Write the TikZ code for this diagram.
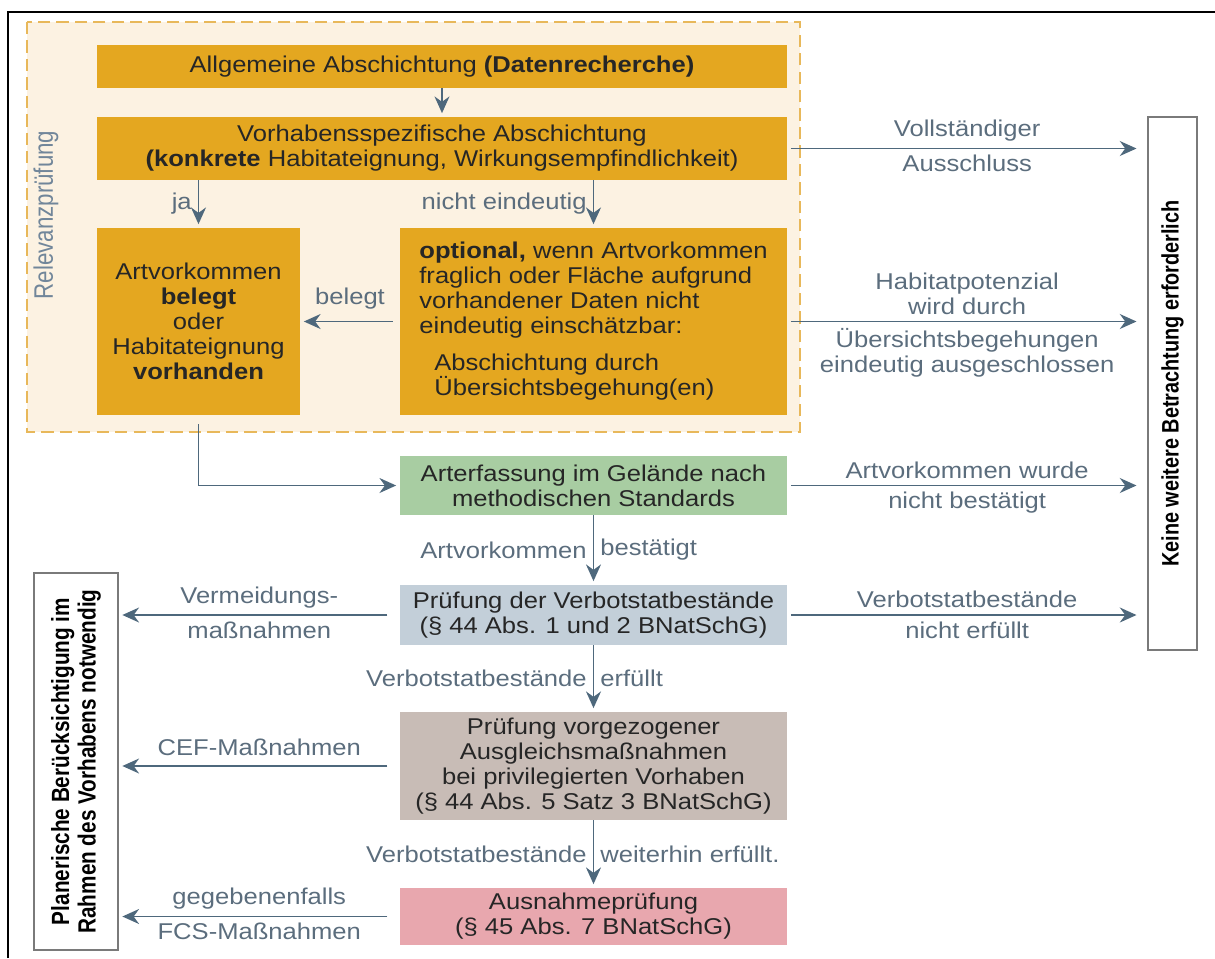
\documentclass[tikz,border=0pt]{standalone}
\usepackage{fontspec}
\setmainfont{Liberation Sans}[FakeStretch=1.12]
\newfontfamily\rotfont{Liberation Sans}
\usepackage{tikz}
\usetikzlibrary{arrows.meta,positioning}
\definecolor{rp-orange}{HTML}{E4A720}
\definecolor{rp-cream}{HTML}{FCF2E2}
\definecolor{rp-dash}{HTML}{E8B85A}
\definecolor{rp-green}{HTML}{A8CDA2}
\definecolor{rp-blue}{HTML}{C3CFD9}
\definecolor{rp-brown}{HTML}{C8BCB6}
\definecolor{rp-pink}{HTML}{E8A7AE}
\definecolor{rp-arrow}{HTML}{4E687C}
\definecolor{rp-label}{HTML}{5B6D7D}
\definecolor{rp-rel}{HTML}{71869A}
\definecolor{rp-text}{HTML}{262626}
\definecolor{rp-frame}{HTML}{7A7A7A}
\begin{document}
\begin{tikzpicture}[x=0.02cm, y=-0.02cm,
    box/.style={rectangle, inner sep=2pt, align=center, text=rp-text, font=\fontsize{13}{14.2}\selectfont},
    obox/.style={box, fill=rp-orange},
    lab/.style={text=rp-label, align=center, font=\fontsize{13}{14.2}\selectfont},
    arr/.style={-{Stealth[length=9.5pt,width=8.5pt]}, draw=rp-arrow, line width=1.1pt, shorten >=2pt},
    sidebox/.style={draw=rp-frame, line width=0.8pt, rotate=90, yscale=1.2, align=center, text=black}]
    \useasboundingbox (0,0) rectangle (1215,958);
    \draw[line width=1.2pt] (8,958) -- (8,12) -- (1215,12);

    % Relevanzpruefung
    \draw[rp-dash, fill=rp-cream, line width=0.8pt, dash pattern=on 7pt off 3.5pt] (27,22) rectangle (800,432);
    \node[rotate=90, yscale=1.2, text=rp-rel, font=\rotfont\fontsize{12.7}{15}\selectfont] (relev) at (46,215) {Relevanzprüfung};

    \node[obox, minimum width=13.8cm, minimum height=0.86cm] (allg) at (442,66.5) {Allgemeine Abschichtung \textbf{(Datenrecherche)}};
    \node[obox, minimum width=13.8cm, minimum height=1.26cm] (vorh) at (442,148.5) {Vorhabensspezifische Abschichtung\\\textbf{(konkrete} Habitateignung, Wirkungsempfindlichkeit)};
    \node[obox, minimum width=4.06cm, minimum height=3.74cm] (beleg) at (198.5,321.5) {Artvorkommen\\\textbf{belegt}\\oder\\Habitateignung\\\textbf{vorhanden}};
    \node[obox, minimum width=7.74cm, minimum height=3.74cm, align=left] (optio) at (593.5,321.5) {\textbf{optional,} wenn Artvorkommen\\fraglich oder Fläche aufgrund\\vorhandener Daten nicht\\eindeutig einschätzbar:\\[7pt]\hspace*{0.3cm}Abschichtung durch\\\hspace*{0.3cm}Übersichtsbegehung(en)};

    \node[box, fill=rp-green, minimum width=7.74cm, minimum height=1.18cm] (erfas) at (593.5,485.5) {Arterfassung im Gelände nach\\methodischen Standards};
    \node[box, fill=rp-blue, minimum width=7.74cm, minimum height=1.2cm] (verbo) at (593.5,615) {Prüfung der Verbotstatbestände\\(§ 44 Abs. 1 und 2 BNatSchG)};
    \node[box, fill=rp-brown, minimum width=7.74cm, minimum height=2.16cm] (ausgl) at (593.5,766) {Prüfung vorgezogener\\Ausgleichsmaßnahmen\\bei privilegierten Vorhaben\\(§ 44 Abs. 5 Satz 3 BNatSchG)};
    \node[box, fill=rp-pink, minimum width=7.74cm, minimum height=1.14cm] (ausna) at (593.5,916.5) {Ausnahmeprüfung\\(§ 45 Abs. 7 BNatSchG)};

    \node[sidebox, minimum width=10.66cm, minimum height=0.82cm, font=\rotfont\bfseries\fontsize{11.3}{13}\selectfont] (keine) at (1172.5,383.5) {Keine weitere Betrachtung erforderlich};
    \node[sidebox, minimum width=7.54cm, minimum height=1.4cm, font=\rotfont\bfseries\fontsize{11.8}{12.5}\selectfont] (plan) at (76,761.5) {Planerische Berücksichtigung im\\Rahmen des Vorhabens notwendig};

    % down the middle
    \draw[arr] (allg) -- (vorh);
    \draw[arr] (vorh.south -| beleg) -- node[lab, left] {ja} (beleg);
    \draw[arr] (vorh.south -| optio) -- node[lab, left] {nicht eindeutig} (optio);
    \draw[arr, shorten <=4pt] (optio.west) -- node[lab, above=3pt] {belegt} (beleg.east);
    \draw[arr, shorten <=5pt] (beleg.south) |- (erfas.west);
    \draw[arr] (erfas) -- node[lab, left] {Artvorkommen} node[lab, right] {bestätigt} (verbo);
    \draw[arr] (verbo) -- node[lab, left] {Verbotstatbestände} node[lab, right] {erfüllt} (ausgl);
    \draw[arr] (ausgl) -- node[lab, left] {Verbotstatbestände} node[lab, right] {weiterhin erfüllt.} (ausna);

    % to the right
    \draw[arr, shorten >=6pt, shorten <=2pt] (vorh.east) -- node[lab, above] {Vollständiger} node[lab, below] {Ausschluss} (vorh.east -| keine.north);
    \draw[arr, shorten >=6pt, shorten <=2pt] (optio.east) -- node[lab, above] {Habitatpotenzial\\wird durch} node[lab, below] {Übersichtsbegehungen\\eindeutig ausgeschlossen} (optio.east -| keine.north);
    \draw[arr, shorten >=6pt, shorten <=2pt] (erfas.east) -- node[lab, above] {Artvorkommen wurde} node[lab, below] {nicht bestätigt} (erfas.east -| keine.north);
    \draw[arr, shorten >=6pt, shorten <=2pt] (verbo.east) -- node[lab, above] {Verbotstatbestände} node[lab, below] {nicht erfüllt} (verbo.east -| keine.north);

    % to the left
    \draw[arr, shorten <=7pt] (verbo.west) -- node[lab, above] {Vermeidungs-} node[lab, below] {maßnahmen} (verbo.west -| plan.south);
    \draw[arr, shorten <=7pt] (ausgl.west) -- node[lab, above=2pt] {CEF-Maßnahmen} (ausgl.west -| plan.south);
    \draw[arr, shorten <=7pt] (ausna.west) -- node[lab, above] {gegebenenfalls} node[lab, below] {FCS-Maßnahmen} (ausna.west -| plan.south);
\end{tikzpicture}
\end{document}
